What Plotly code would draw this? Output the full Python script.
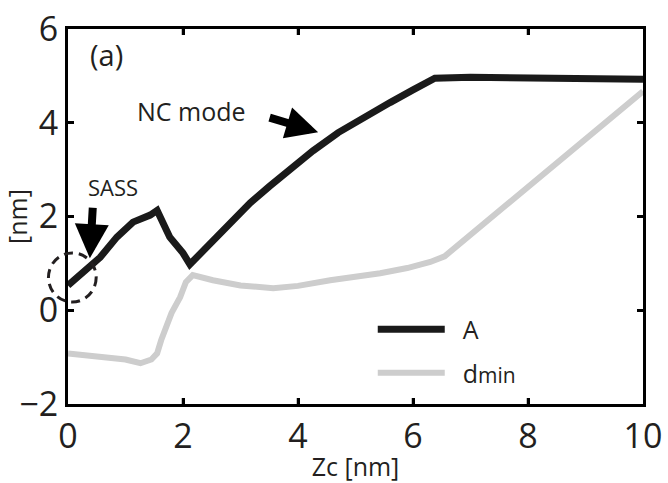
import plotly.graph_objects as go

# Curve A (oscillation amplitude)
a_x = [0, 0.26, 0.56, 0.85, 1.13, 1.43, 1.55, 1.77, 2.0, 2.12, 2.42, 2.82, 3.17, 3.5, 3.9,
       4.26, 4.7, 5.13, 5.6, 6.0, 6.2, 6.38, 7, 8, 9, 10]
a_y = [0.53, 0.79, 1.13, 1.56, 1.88, 2.03, 2.13, 1.56, 1.22, 0.98, 1.35, 1.86, 2.29, 2.64, 3.05,
       3.40, 3.79, 4.11, 4.43, 4.70, 4.84, 4.95, 4.97, 4.96, 4.95, 4.93]

# Curve dmin
d_x = [0, 0.3, 0.7, 1.0, 1.26, 1.45, 1.55, 1.62, 1.8, 1.95, 2.05, 2.17, 2.52, 3.0, 3.57,
       4.0, 4.56, 5.0, 5.43, 5.9, 6.3, 6.55, 10]
d_y = [-0.92, -0.95, -1.0, -1.05, -1.13, -1.05, -0.92, -0.64, -0.06, 0.28, 0.6, 0.75, 0.64, 0.53, 0.47,
       0.52, 0.64, 0.7, 0.79, 0.9, 1.03, 1.15, 4.67]

x_ticks = [0, 2, 4, 6, 8, 10]
y_ticks = [-2, 0, 2, 4, 6]
y_tick_text = ["\u22122", "0", "2", "4", "6"]

FONT = "Open Sans"
TXT = "#231f20"
NB = "\u00a0\u00a0"

fig = go.Figure()
fig.add_trace(go.Scatter(x=a_x, y=a_y, mode="lines", name=NB + "A", legendgroup="a",
                         line=dict(color="#1a1a1a", width=7)))
fig.add_trace(go.Scatter(x=d_x, y=d_y, mode="lines", legendgroup="d",
                         name=NB + "d<span style='font-size:21px'>min</span>",
                         line=dict(color="#cdcdcd", width=6)))

fig.update_layout(
    template="none",
    width=668, height=483,
    paper_bgcolor="white", plot_bgcolor="white",
    margin=dict(l=68, r=25, t=29, b=79),
    font=dict(family=FONT, color=TXT),
    showlegend=True,
    legend=dict(x=0.53, y=0.26, xanchor="left", yanchor="top", traceorder="grouped",
                tracegroupgap=8,
                bgcolor="rgba(0,0,0,0)", font=dict(family=FONT, size=25, color=TXT),
                itemwidth=67),
)
fig.update_xaxes(range=[0, 10], tickmode="array", tickvals=x_ticks,
                 showline=True, linecolor="black", linewidth=3, mirror="allticks",
                 ticks="inside", ticklen=6, tickwidth=2.5, tickcolor="black",
                 showgrid=False, zeroline=False, automargin=False,
                 tickfont=dict(family=FONT, size=34, color=TXT),
                 title=dict(text="Zc [nm]", font=dict(family=FONT, size=25, color=TXT), standoff=2))
fig.update_yaxes(range=[-2, 6], tickmode="array", tickvals=y_ticks, ticktext=y_tick_text,
                 showline=True, linecolor="black", linewidth=3, mirror="allticks",
                 ticks="inside", ticklen=6, tickwidth=2.5, tickcolor="black",
                 showgrid=False, zeroline=False, automargin=False,
                 tickfont=dict(family=FONT, size=34, color=TXT),
                 title=dict(text="[nm]", font=dict(family=FONT, size=25, color=TXT), standoff=4))

# Tick marks on all four sides of the box (inner ticks)
for xv in x_ticks[1:-1]:
    for y0, y1 in ((0, 0.016), (0.984, 1)):
        fig.add_shape(type="line", xref="x", yref="y domain", x0=xv, x1=xv, y0=y0, y1=y1,
                      line=dict(color="black", width=2.5))
for yv in y_ticks[1:-1]:
    for x0, x1 in ((0, 0.0104), (0.9896, 1)):
        fig.add_shape(type="line", xref="x domain", yref="y", x0=x0, x1=x1, y0=yv, y1=yv,
                      line=dict(color="black", width=2.5))

# Annotations
fig.add_annotation(x=0.035, y=0.932, xref="paper", yref="paper", text="(a)", showarrow=False,
                   xanchor="left", yanchor="middle", font=dict(family=FONT, size=29, color=TXT))
fig.add_annotation(x=4.35, y=3.80, xref="x", yref="y", ax=-50, ay=-15, text="",
                   showarrow=True, arrowhead=2, arrowsize=0.8, arrowwidth=8, arrowcolor="black")
fig.add_annotation(x=0.214, y=0.782, xref="paper", yref="paper", text="NC mode", showarrow=False,
                   xanchor="center", yanchor="middle", font=dict(family=FONT, size=25, color=TXT))
fig.add_annotation(x=0.078, y=0.578, xref="paper", yref="paper", text="SASS", showarrow=False,
                   xanchor="center", yanchor="middle", font=dict(family=FONT, size=22, color=TXT))
fig.add_annotation(x=0.38, y=1.11, xref="x", yref="y", ax=3, ay=-52, text="",
                   showarrow=True, arrowhead=2, arrowsize=0.85, arrowwidth=8, arrowcolor="black")

# Dashed circle around the SASS region (partly outside the plot area)
fig.add_shape(type="circle", xref="paper", yref="paper",
              x0=-0.034, x1=0.049, y0=0.272, y1=0.403,
              line=dict(color="#231f20", width=3, dash="9px,6px"))

fig.write_html("out.html", config={"displayModeBar": False},
               post_script="document.body.style.margin='0';document.body.style.padding='0';")
